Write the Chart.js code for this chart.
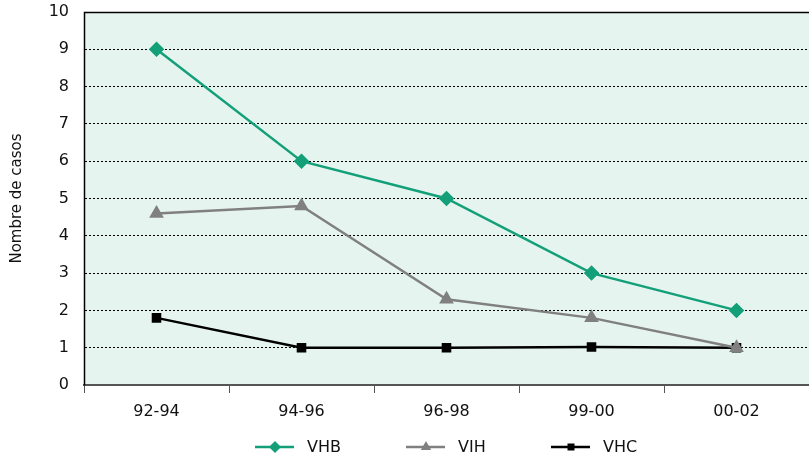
<!DOCTYPE html>
<html>
<head>
<meta charset="utf-8">
<script src="https://cdn.jsdelivr.net/npm/chart.js@4.4.1/dist/chart.umd.min.js"></script>
<style>
  html, body { margin: 0; padding: 0; background: #fff; overflow: hidden; }
  canvas { display: block; }
</style>
</head>
<body>
<canvas id="myChart" width="809" height="461"></canvas>
<script>
const periodes = ['92-94', '94-96', '96-98', '99-00', '00-02'];
const vhb = [9, 6, 5, 3, 2];
const vih = [4.6, 4.8, 2.3, 1.8, 1.0];
const vhc = [1.8, 1, 1, 1.02, 1];

const fontFam = '"DejaVu Sans", Arial, sans-serif';

// fons verd i vores del grafic
const plotBg = {
    id: 'plotBg',
    beforeDraw(chart) {
        const a = chart.chartArea, c = chart.ctx;
        c.save();
        c.fillStyle = '#e5f4ee';
        c.fillRect(a.left, a.top, a.right - a.left, a.bottom - a.top);
        c.restore();
    },
    beforeDatasetsDraw(chart) {
        const a = chart.chartArea, c = chart.ctx;
        c.save();
        c.strokeStyle = '#000';
        c.lineWidth = 1.5;
        c.beginPath();
        c.moveTo(a.right, a.top + 0.5);
        c.lineTo(a.left + 0.5, a.top + 0.5);
        c.lineTo(a.left + 0.5, a.bottom);
        c.stroke();
        c.restore();
    }
};

// llegenda a sota amb linia + marcador
const legendaBaix = {
    id: 'legendaBaix',
    afterDraw(chart) {
        const c = chart.ctx;
        const y = 447;
        const xs = [255, 406, 551];
        chart.data.datasets.forEach((ds, i) => {
            const x0 = xs[i];
            const cx = x0 + 20;
            const r = ds.pointRadius;
            c.save();
            c.strokeStyle = ds.borderColor;
            c.lineWidth = 2.5;
            c.beginPath();
            c.moveTo(x0, y);
            c.lineTo(x0 + 39, y);
            c.stroke();
            c.fillStyle = ds.backgroundColor;
            c.beginPath();
            if (ds.pointStyle === 'rectRot') {
                c.moveTo(cx, y - r); c.lineTo(cx + r, y);
                c.lineTo(cx, y + r); c.lineTo(cx - r, y);
            } else if (ds.pointStyle === 'triangle') {
                c.moveTo(cx, y - r); c.lineTo(cx + r * 0.87, y + r * 0.5);
                c.lineTo(cx - r * 0.87, y + r * 0.5);
            } else {
                c.rect(cx - r * 0.7, y - r * 0.7, r * 1.4, r * 1.4);
            }
            c.closePath();
            c.fill();
            c.fillStyle = '#111';
            c.font = '16px ' + fontFam;
            c.textBaseline = 'middle';
            c.fillText(ds.label, x0 + 52, y + 1);
            c.restore();
        });
    }
};

const ctx = document.getElementById('myChart').getContext('2d');
const myChart = new Chart(ctx, {
    type: 'line',
    data: {
        labels: periodes,
        datasets: [{
            label: 'VHB',
            data: vhb,
            borderColor: '#13a079',
            backgroundColor: '#13a079',
            borderWidth: 2.5,
            pointStyle: 'rectRot',
            pointRadius: 6,
            tension: 0
        }, {
            label: 'VIH',
            data: vih,
            borderColor: '#808080',
            backgroundColor: '#808080',
            borderWidth: 2.5,
            pointStyle: 'triangle',
            pointRadius: 6,
            tension: 0
        }, {
            label: 'VHC',
            data: vhc,
            borderColor: '#000000',
            backgroundColor: '#000000',
            borderWidth: 2.5,
            pointStyle: 'rect',
            pointRadius: 5,
            tension: 0
        }]
    },
    options: {
        responsive: false,
        animation: false,
        layout: { autoPadding: false, padding: { top: 12, right: 0, bottom: 36, left: 0 } },
        plugins: {
            legend: { display: false },
            tooltip: { enabled: false }
        },
        scales: {
            x: {
                offset: true,
                grid: {
                    offset: true,
                    drawOnChartArea: false,
                    tickLength: 8,
                    color: '#555'
                },
                border: { color: '#555', width: 2 },
                ticks: {
                    color: '#111',
                    font: { family: fontFam, size: 16 },
                    padding: 9
                },
                afterFit(scale) {
                    scale.height = 40;
                    scale.paddingLeft = 0;
                    scale.paddingRight = 0;
                }
            },
            y: {
                min: 0,
                max: 10,
                ticks: {
                    stepSize: 1,
                    color: '#111',
                    font: { family: fontFam, size: 16 },
                    padding: 15
                },
                grid: {
                    color: '#000',
                    drawTicks: false,
                    lineWidth: 1
                },
                border: { color: '#333', width: 1, dash: [2, 2] },
                title: {
                    display: true,
                    text: 'Nombre de casos',
                    color: '#111',
                    font: { family: fontFam, size: 15 },
                    padding: { top: 8, bottom: 0 }
                },
                afterFit(scale) {
                    scale.width = 84;
                    scale.paddingTop = 0;
                    scale.paddingBottom = 0;
                }
            }
        }
    },
    plugins: [plotBg, legendaBaix]
});
</script>
</body>
</html>
